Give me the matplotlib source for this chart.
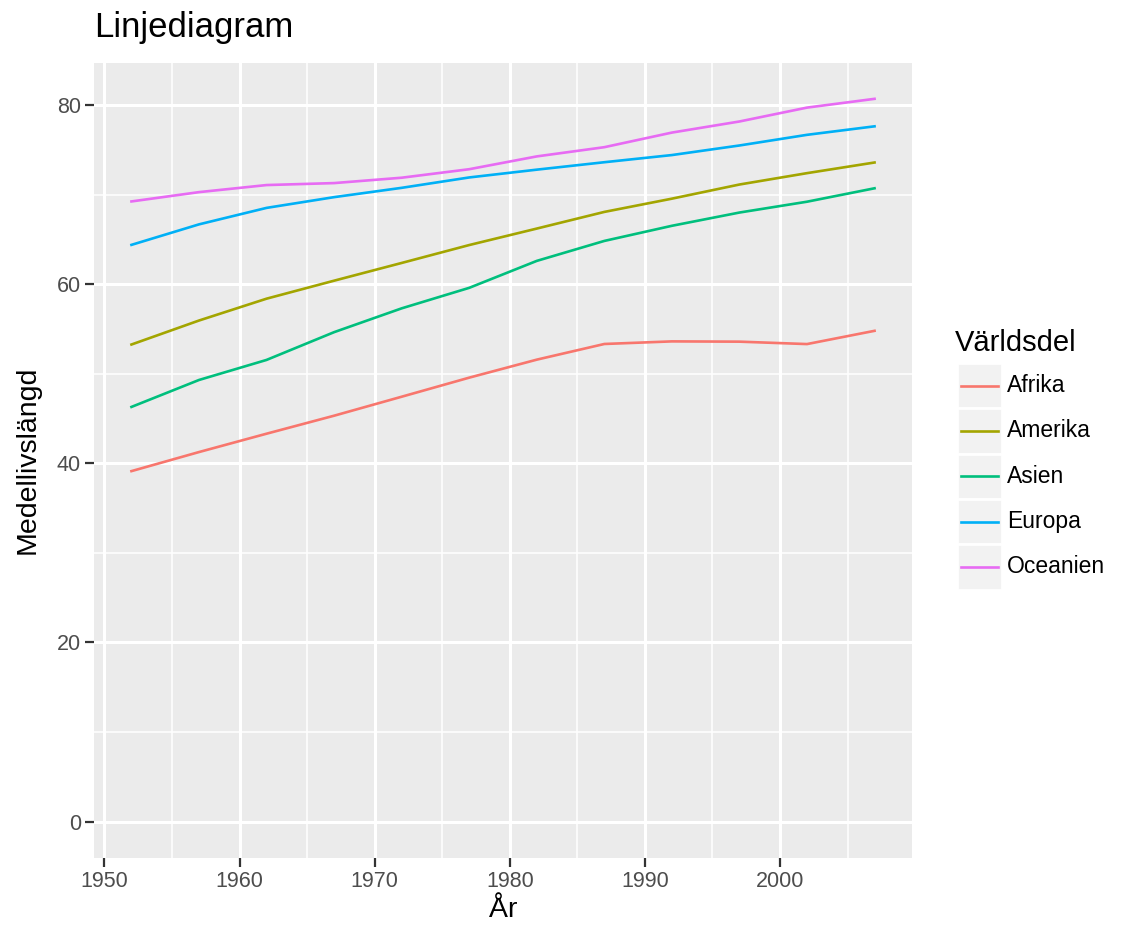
import matplotlib.pyplot as plt
from matplotlib.patches import Rectangle

# Data (gapminder, mean life expectancy per continent)
years = [1952, 1957, 1962, 1967, 1972, 1977, 1982, 1987, 1992, 1997, 2002, 2007]
afrika = [39.14, 41.27, 43.32, 45.33, 47.45, 49.58, 51.59, 53.34, 53.63, 53.60, 53.33, 54.81]
amerika = [53.28, 55.96, 58.40, 60.41, 62.39, 64.39, 66.23, 68.09, 69.57, 71.15, 72.42, 73.61]
asien = [46.31, 49.32, 51.56, 54.66, 57.32, 59.61, 62.62, 64.85, 66.54, 68.02, 69.23, 70.73]
europa = [64.41, 66.70, 68.54, 69.74, 70.78, 71.94, 72.81, 73.64, 74.44, 75.51, 76.70, 77.65]
oceanien = [69.26, 70.30, 71.09, 71.31, 71.91, 72.86, 74.29, 75.32, 76.95, 78.19, 79.74, 80.72]

names = ['Afrika', 'Amerika', 'Asien', 'Europa', 'Oceanien']
series = [afrika, amerika, asien, europa, oceanien]
colors = ['#F8766D', '#A3A500', '#00BF7D', '#00B0F6', '#E76BF3']

plt.rcParams['font.family'] = ['Liberation Sans', 'DejaVu Sans']

W, H = 1133, 944
fig = plt.figure(figsize=(W / 100, H / 100), dpi=100)

# Panel
left, right, top, bottom = 94.3, 911.7, 62.7, 857.7
ax = fig.add_axes([left / W, 1 - bottom / H, (right - left) / W, (bottom - top) / H])
ax.set_facecolor('#EBEBEB')
for s in ax.spines.values():
    s.set_visible(False)

for name, vals, c in zip(names, series, colors):
    ax.plot(years, vals, color=c, linewidth=1.9, label=name, zorder=3)

ymax = max(max(v) for v in series)
ax.set_xlim(1952 - 0.05 * 55, 2007 + 0.05 * 55)
ax.set_ylim(0 - 0.05 * ymax, ymax * 1.05)

ax.set_xticks([1950, 1960, 1970, 1980, 1990, 2000])
ax.set_yticks([0, 20, 40, 60, 80])
ax.set_xticks([1955, 1965, 1975, 1985, 1995, 2005], minor=True)
ax.set_yticks([10, 30, 50, 70], minor=True)
ax.grid(which='major', color='white', linewidth=2.2, zorder=1)
ax.grid(which='minor', color='white', linewidth=1.1, zorder=1)
ax.set_axisbelow(True)
ax.tick_params(which='major', length=6.5, width=1.6, color='#333333',
               labelsize=15.5, labelcolor='#4D4D4D', pad=3)
ax.tick_params(which='minor', length=0)

ax.set_xlabel('År', fontsize=20.5, labelpad=4)
ax.set_ylabel('Medellivslängd', fontsize=20.5, labelpad=12)

fig.text(left / W, 1 - 28 / H, 'Linjediagram', fontsize=25, ha='left', va='center')

# Legend drawn in pixel coordinates
lg = fig.add_axes([0, 0, 1, 1])
lg.set_xlim(0, W)
lg.set_ylim(H, 0)
lg.axis('off')
lg.text(955, 343, 'Världsdel', fontsize=21, ha='left', va='center')
key_x, key_w, key_h = 956.5, 45, 45.3
y0 = 363
for i, (name, c) in enumerate(zip(names, colors)):
    yk = y0 + i * key_h
    lg.add_patch(Rectangle((key_x, yk), key_w, key_h, facecolor='#F2F2F2',
                           edgecolor='white', linewidth=2))
    lg.plot([key_x + 4, key_x + key_w - 4], [yk + key_h / 2] * 2, color=c, linewidth=1.9)
    lg.text(1007, yk + key_h / 2, name, fontsize=16.5, ha='left', va='center')

plt.savefig('out.png', dpi=100)
plt.close()
